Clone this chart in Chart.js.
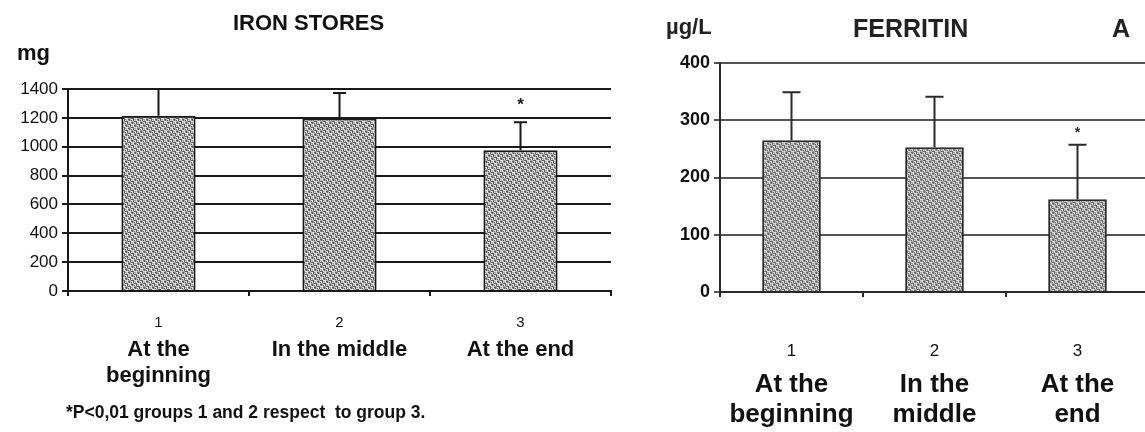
<!DOCTYPE html>
<html>
<head>
<meta charset="utf-8">
<script src="https://cdn.jsdelivr.net/npm/chart.js@4.4.1/dist/chart.umd.min.js"></script>
<style>
  html, body { margin: 0; padding: 0; background: #fff; overflow: hidden; }
  body { width: 1145px; height: 432px; position: relative; font-family: "Liberation Sans", Arial, sans-serif; }
  canvas { position: absolute; top: 0; }
  .txt { position: absolute; font-weight: bold; color: #111; white-space: nowrap; line-height: 1; }
</style>
</head>
<body>
<canvas id="ironChart" width="630" height="432" style="left:0"></canvas>
<canvas id="ferritinChart" width="495" height="432" style="left:660px"></canvas>

<div class="txt" style="left:233px; top:12px; font-size:22px">IRON STORES</div>
<div class="txt" style="left:17px; top:42px; font-size:22px">mg</div>
<div class="txt" style="left:66px; top:404px; font-size:17.5px">*P&lt;0,01 groups 1 and 2 respect&nbsp; to group 3.</div>

<div class="txt" style="left:666px; top:16px; font-size:22px; color:#222">µg/L</div>
<div class="txt" style="left:853px; top:16px; font-size:25px; color:#222">FERRITIN</div>
<div class="txt" style="left:1112px; top:16px; font-size:25px; color:#222">A</div>

<script>
// categories
const groupNumbers = ["1", "2", "3"];
const ironLabels = [["At the", "beginning"], ["In the middle"], ["At the end"]];
const ferritinLabels = [["At the", "beginning"], ["In the", "middle"], ["At the", "end"]];

// iron stores (mg): mean and SD
const ironMean = [1215, 1195, 975];
const ironSD = [185, 177, 194];
const ironSig = ["", "", "*"];
const ironTicks = [0, 200, 400, 600, 800, 1000, 1200, 1400];

// ferritin (µg/L): mean and SD
const ferritinMean = [265, 253, 162];
const ferritinSD = [84, 88, 95];
const ferritinSig = ["", "", "*"];
const ferritinTicks = [0, 100, 200, 300, 400];

// grey stipple fill like the old printout
function stipple(light, mid, dark) {
  const n = 9;
  const c = document.createElement("canvas");
  c.width = n; c.height = n;
  const g = c.getContext("2d");
  g.fillStyle = light;
  g.fillRect(0, 0, n, n);
  for (let y = 0; y < n; y++) {
    for (let x = 0; x < n; x++) {
      const k = (x * 5 + y * 7 + x * y * 3) % 9;
      if (k < 3) { g.fillStyle = dark; g.fillRect(x, y, 1, 1); }
      else if (k < 6) { g.fillStyle = mid; g.fillRect(x, y, 1, 1); }
    }
  }
  return g.createPattern(c, "repeat");
}

const errorBars = {
  id: "errorBars",
  afterDatasetsDraw(chart, args, o) {
    const ctx = chart.ctx;
    const y = chart.scales.y;
    const meta = chart.getDatasetMeta(0);
    ctx.save();
    ctx.strokeStyle = o.color;
    ctx.lineWidth = o.width;
    meta.data.forEach((bar, i) => {
      const top = y.getPixelForValue(o.mean[i] + o.sd[i]);
      ctx.beginPath();
      ctx.moveTo(bar.x, bar.y);
      ctx.lineTo(bar.x, top);
      ctx.moveTo(bar.x - o.cap / 2, top);
      ctx.lineTo(bar.x + o.cap / 2, top);
      ctx.stroke();
      if (o.sig[i]) {
        ctx.fillStyle = o.color;
        ctx.font = o.sigFont;
        ctx.textAlign = "center";
        ctx.textBaseline = "middle";
        ctx.fillText(o.sig[i], bar.x, top - o.sigGap);
      }
    });
    ctx.restore();
  }
};

const groupNames = {
  id: "groupNames",
  afterDraw(chart, args, o) {
    const ctx = chart.ctx;
    const x = chart.scales.x;
    ctx.save();
    ctx.fillStyle = o.color;
    ctx.font = o.font;
    ctx.textAlign = "center";
    ctx.textBaseline = "middle";
    o.lines.forEach((lines, i) => {
      const px = x.getPixelForValue(i);
      lines.forEach((t, k) => ctx.fillText(t, px, o.top + k * o.lineHeight));
    });
    ctx.restore();
  }
};

function makeChart(id, cfg) {
  return new Chart(document.getElementById(id), {
    type: "bar",
    data: {
      labels: groupNumbers,
      datasets: [{
        data: cfg.mean,
        backgroundColor: stipple(cfg.light, cfg.mid, cfg.dark),
        borderColor: cfg.line,
        borderWidth: 2,
        barPercentage: 0.82,
        categoryPercentage: 0.5
      }]
    },
    options: {
      responsive: false,
      animation: false,
      layout: { padding: { top: cfg.top, right: cfg.right, left: 0, bottom: 0 } },
      plugins: {
        legend: { display: false },
        tooltip: { enabled: false },
        errorBars: { mean: cfg.mean, sd: cfg.sd, sig: cfg.sig, color: cfg.line, width: 2, cap: cfg.cap, sigFont: cfg.sigFont, sigGap: cfg.sigGap },
        groupNames: { lines: cfg.names, font: cfg.nameFont, color: "#111", top: cfg.nameTop, lineHeight: cfg.nameLH }
      },
      scales: {
        x: {
          grid: { offset: true, drawOnChartArea: false, color: cfg.line, lineWidth: 2, tickLength: 5 },
          border: { color: cfg.line, width: 2 },
          ticks: { color: "#111", font: { size: cfg.numSize, family: "Liberation Sans" }, padding: cfg.numPad, maxRotation: 0 },
          afterFit(s) { s.height = cfg.xHeight; }
        },
        y: {
          min: 0,
          max: cfg.ticks[cfg.ticks.length - 1],
          afterBuildTicks(s) { s.ticks = cfg.ticks.map(v => ({ value: v })); },
          grid: { color: cfg.grid, lineWidth: 2, tickLength: 6 },
          border: { color: cfg.line, width: 2 },
          ticks: {
            color: "#111",
            font: { size: cfg.tickSize, family: "Liberation Sans", weight: cfg.tickWeight },
            padding: 4,
            callback: v => String(v)
          },
          afterFit(s) { s.width = cfg.yWidth; }
        }
      }
    },
    plugins: [errorBars, groupNames]
  });
}

makeChart("ironChart", {
  mean: ironMean, sd: ironSD, sig: ironSig, ticks: ironTicks, names: ironLabels,
  light: "#e4e4e4", mid: "#a8a8a8", dark: "#5a5a5a", line: "#1a1a1a", grid: "#1a1a1a",
  top: 89, right: 19, yWidth: 68, xHeight: 141,
  cap: 13, sigFont: "bold 17px Liberation Sans", sigGap: 17,
  tickSize: 17, tickWeight: "normal", numSize: 15, numPad: 18,
  nameFont: "bold 22px Liberation Sans", nameTop: 350, nameLH: 26
});

makeChart("ferritinChart", {
  mean: ferritinMean, sd: ferritinSD, sig: ferritinSig, ticks: ferritinTicks, names: ferritinLabels,
  light: "#dcdcdc", mid: "#a4a4a4", dark: "#666", line: "#2a2a2a", grid: "#555",
  top: 63, right: 6, yWidth: 60, xHeight: 140,
  cap: 18, sigFont: "bold 14px Liberation Sans", sigGap: 12,
  tickSize: 18, tickWeight: "bold", numSize: 17, numPad: 44,
  nameFont: "bold 26px Liberation Sans", nameTop: 385, nameLH: 30
});
</script>
</body>
</html>
